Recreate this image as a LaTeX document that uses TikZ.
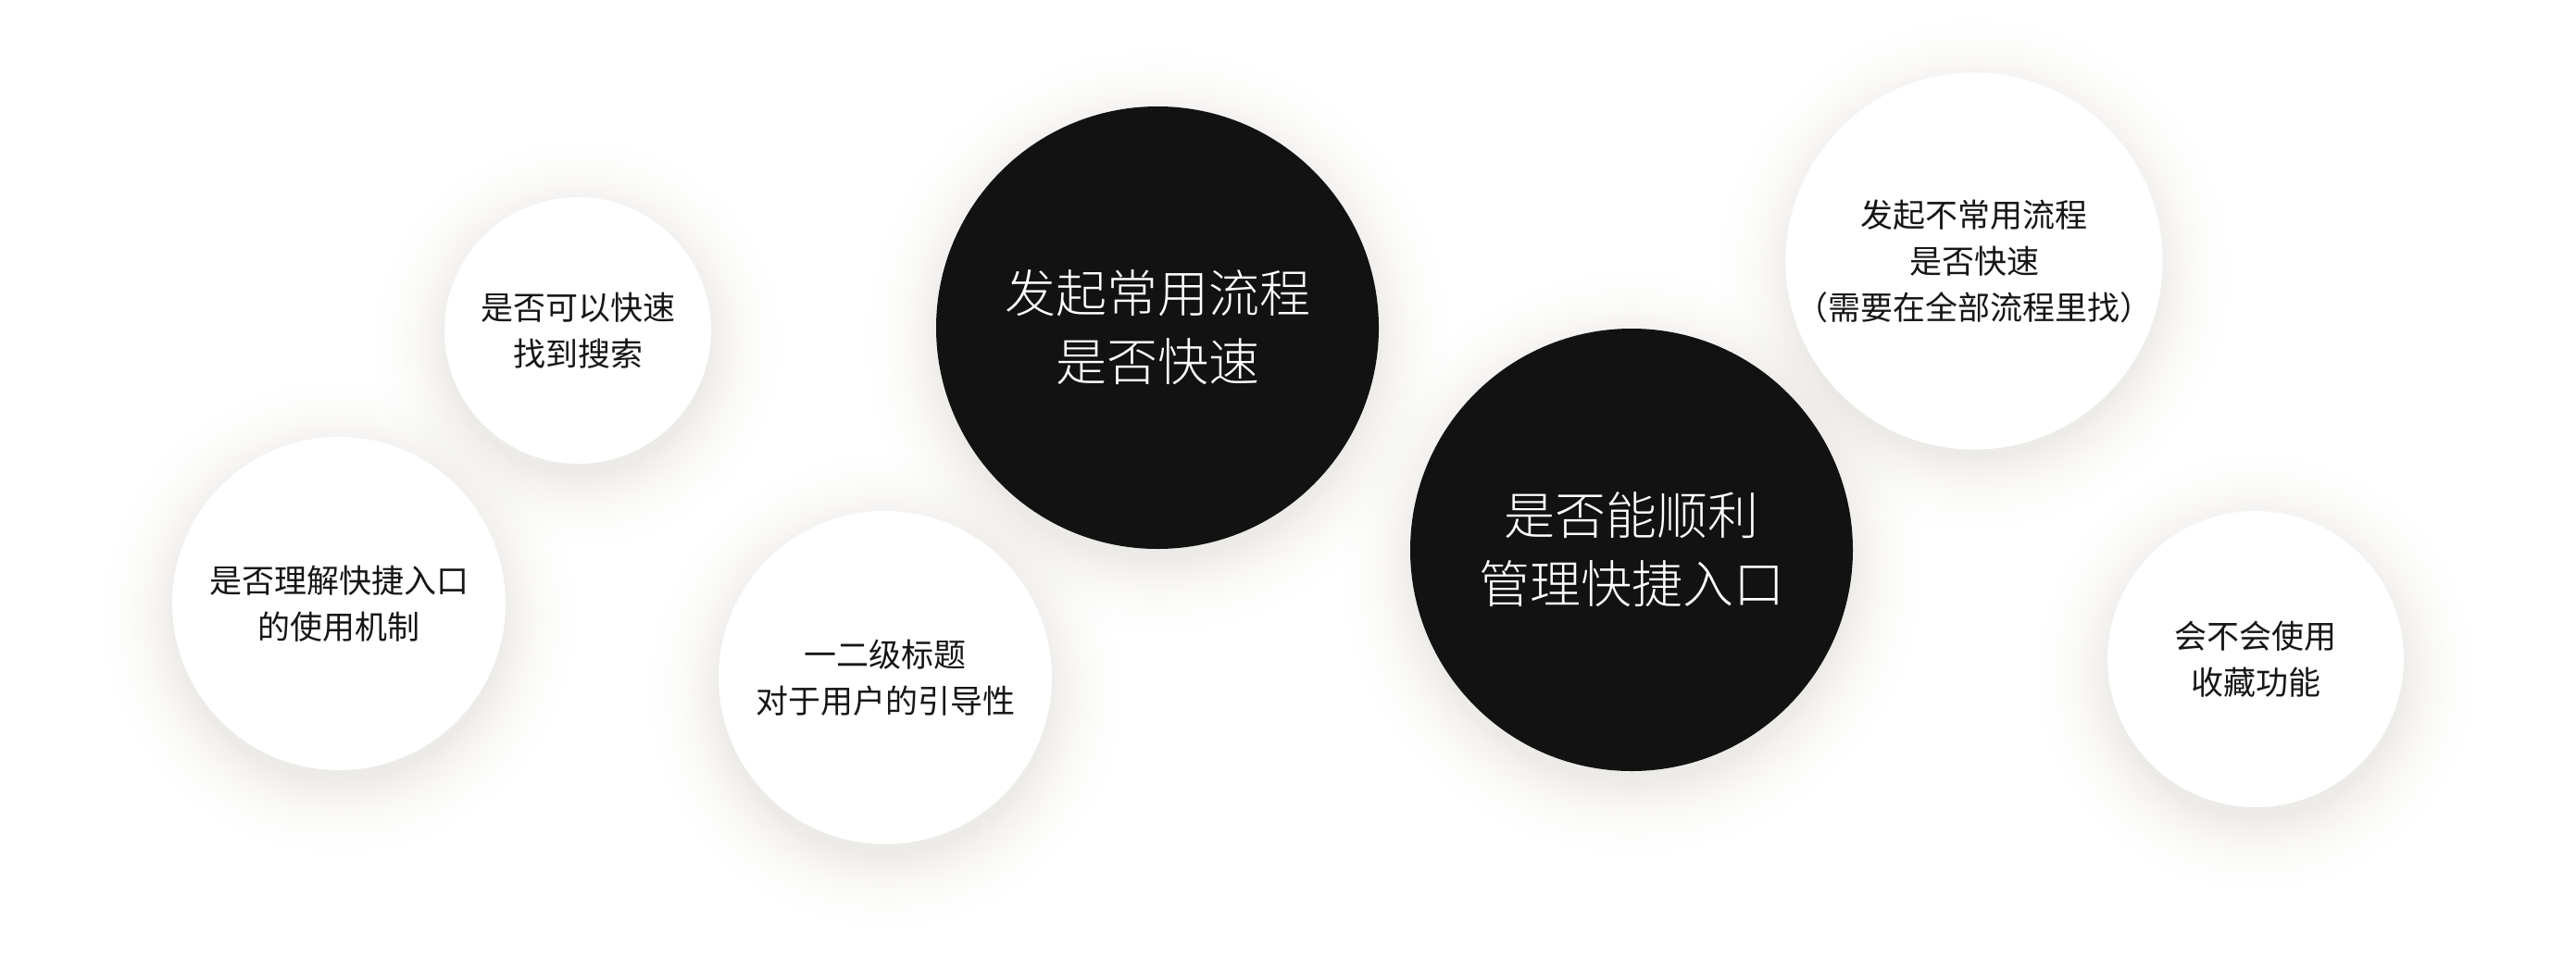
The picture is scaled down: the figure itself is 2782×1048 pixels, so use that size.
\documentclass[tikz,border=0pt]{standalone}
\usepackage{fontspec}
\setmainfont{Noto Sans CJK SC}
\newfontfamily\cjklight{Noto Sans CJK SC Light}
\definecolor{shA}{RGB}{237,235,232}
\definecolor{shB}{RGB}{243,241,239}
\definecolor{shC}{RGB}{249,248,247}
\definecolor{shD}{RGB}{253,253,252}
\definecolor{darkc}{RGB}{18,18,18}
\definecolor{textc}{RGB}{22,22,22}
\newcommand\softshadow[3]{%
  \pgfmathsetmacro\sa{(#3-4)/(#3+80)*25}%
  \pgfmathsetmacro\sb{\sa+(25-\sa)*0.15}%
  \pgfmathsetmacro\sc{\sa+(25-\sa)*0.4}%
  \pgfmathsetmacro\sd{\sa+(25-\sa)*0.7}%
  \edef\mkshade{\noexpand\pgfdeclareradialshading{shd#3}{\noexpand\pgfpointorigin}{%
    color(0bp)=(shA);color(\sa bp)=(shA);color(\sb bp)=(shB);color(\sc bp)=(shC);%
    color(\sd bp)=(shD);color(25bp)=(white);color(50bp)=(white)}}%
  \mkshade
  \shade[shading=shd#3, blend mode=multiply] (#1,#2+14) circle[radius=#3+80];}
\tikzset{
  wc/.style={circle, fill=white, inner sep=0pt, align=center, text=textc,
    font=\fontsize{10.5pt}{15pt}\selectfont},
  bc/.style={circle, fill=darkc, inner sep=0pt, align=center, text=white,
    font=\cjklight\fontsize{16.5pt}{22.2pt}\selectfont},
}
\begin{document}
\begin{tikzpicture}[x=0.3pt,y=-0.3pt]
\useasboundingbox[fill=white] (0,0) rectangle (2782,1048);
% shadows
\softshadow{624}{357}{144}
\softshadow{366}{652}{180}
\softshadow{956}{732}{180}
\softshadow{1250}{354}{239}
\softshadow{1762}{594}{239}
\softshadow{2132}{282}{200}
\softshadow{2436}{712}{160}
% circles
\node[wc, minimum size=86.4pt] (q1) at (624,357) {是否可以快速\\找到搜索};
\node[wc, minimum size=108pt] (q2) at (366,652) {是否理解快捷入口\\的使用机制};
\node[wc, minimum size=108pt] (q3) at (956,732) {一二级标题\\对于用户的引导性};
\node[bc, minimum size=143.4pt] (b1) at (1250,354) {发起常用流程\\是否快速};
\node[bc, minimum size=143.4pt] (b2) at (1762,594) {是否能顺利\\管理快捷入口};
\node[wc, minimum size=120pt] (q6) at (2132,282) {发起不常用流程\\是否快速\\（需要在全部流程里找）};
\node[wc, minimum size=96pt] (q7) at (2436,712) {会不会使用\\收藏功能};
\end{tikzpicture}
\end{document}
